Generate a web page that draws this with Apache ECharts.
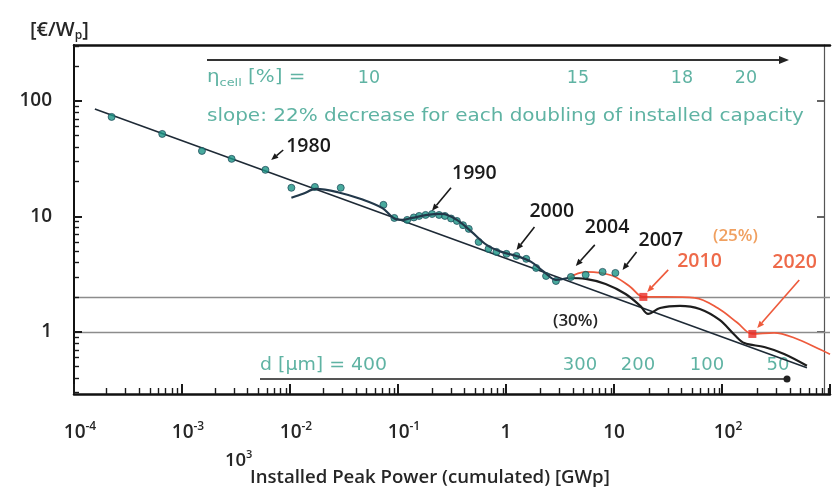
<!DOCTYPE html>
<html>
<head>
<meta charset="utf-8">
<title>PV experience curve</title>
<script src="https://cdn.jsdelivr.net/npm/echarts@6/dist/echarts.min.js"></script>
<style>
  html, body { margin: 0; padding: 0; background: #fff; }
  #chart { width: 833px; height: 495px; }
</style>
</head>
<body>
<div id="chart"></div>
<script>
// ---- data: cumulated installed power [GWp] vs module price [€/Wp] ----
const priceHistory = [
  [2.23e-4, 72.7], [6.56e-4, 51.8], [1.53e-3, 36.9], [2.88e-3, 31.5], [5.92e-3, 25.3],
  [0.0103, 17.7], [0.0170, 18.0], [0.0295, 17.7], [0.0733, 12.6], [0.0925, 9.7],
  [0.1216, 9.33], [0.140, 9.8], [0.157, 10.1], [0.180, 10.3], [0.207, 10.5], [0.240, 10.3],
  [0.272, 10.1], [0.310, 9.6], [0.351, 9.14], [0.400, 8.4], [0.452, 7.8], [0.558, 6.02],
  [0.689, 5.23], [0.816, 4.93], [1.01, 4.74], [1.25, 4.55], [1.54, 4.29], [1.90, 3.58],
  [2.35, 3.05], [2.90, 2.76], [3.99, 2.99], [5.47, 3.12], [7.84, 3.31], [10.3, 3.24]
];
// experience curve, 22 % decrease per doubling
const learningLine = [[1.56e-4, 85], [611, 0.49]];
// smoothed price development
const historyCurve = [
  [0.0103, 14.5], [0.0132, 15.7], [0.0174, 17.3], [0.0277, 16.2], [0.047, 14.0],
  [0.0718, 11.8], [0.0944, 9.5], [0.1095, 9.33], [0.135, 9.7], [0.186, 10.3],
  [0.255, 10.5], [0.351, 9.33], [0.481, 7.34], [0.661, 5.67], [0.908, 4.93],
  [1.25, 4.55], [1.71, 4.04], [2.25, 3.31], [2.90, 2.82], [3.74, 2.93]
];
// scenario with 30 % learning rate
const scenario30 = [
  [3.74, 2.93], [5.47, 2.88], [8.36, 2.60], [12.8, 2.13], [17.5, 1.68], [20.7, 1.43],
  [26.7, 1.61], [40.8, 1.68], [62.3, 1.58], [95.0, 1.27], [131, 0.94], [161, 0.80],
  [246, 0.74], [376, 0.645], [611, 0.51]
];
// scenario with 25 % learning rate
const scenario25 = [
  [3.74, 2.93], [5.47, 3.31], [7.52, 3.24], [10.3, 2.99], [14.2, 2.45], [18.7, 2.01],
  [29.7, 2.01], [56.0, 1.97], [91.2, 1.61], [139, 1.20], [191, 0.96], [304, 0.98],
  [464, 0.89], [822, 0.70], [1000, 0.64]
];
const scenario25Marks = [[18.7, 2.01], [191, 0.96]];
const priceLevels = [1, 2];

// year call-outs: arrow tip [GWp, €/Wp]
const yearLabels = ['1980', '1990', '2000', '2004', '2007', '2010', '2020'];
const yearArrowTips = [
  [6.7e-3, 30.8], [0.2065, 11.2], [1.25, 5.13], [4.43, 3.73], [12.0, 3.44], [20.3, 2.22], [212, 1.08]
];

// axis tick labels
const xTickExponents = [-4, -3, -2, -1, 0, 1, 2];
const xTickLabels = [['10', '-4'], ['10', '-3'], ['10', '-2'], ['10', '-1'], ['1', ''], ['10', ''], ['10', '2']];
const yTickExponents = [0, 1, 2];
const yTickLabels = ['1', '10', '100'];
const minorSteps = [2, 3, 4, 5, 6, 7, 8, 9];

// annotation rows along the top and bottom of the plot
const efficiencyLabels = ['10', '15', '18', '20'];
const thicknessLabels = ['300', '200', '100', '50'];

// ---- layout ----
const FONT = '"Open Sans", "Noto Sans", "DejaVu Sans", sans-serif';
const NOTE_FONT = '"DejaVu Sans", "Open Sans", sans-serif';
const TEAL = '#5fb3a3';
const RED = '#ee5a3c';
const X_MIN = 1e-4, X_MAX = 1e3, Y_MIN = 0.29, Y_MAX = 305;
const GRID = { left: 74, top: 45, width: 762, height: 349 };

const calloutLayout = [
  { tail: [12, -10], label: [15, -14], color: '#1a1a1a', text: '#1a1a1a' },
  { tail: [19, -23], label: [20, -37], color: '#1a1a1a', text: '#1a1a1a' },
  { tail: [18, -23], label: [13, -38], color: '#1a1a1a', text: '#1a1a1a' },
  { tail: [19, -21], label: [9, -38], color: '#1a1a1a', text: '#1a1a1a' },
  { tail: [14, -18], label: [16, -30], color: '#1a1a1a', text: '#1a1a1a' },
  { tail: [21, -22], label: [30, -30], color: RED, text: '#ee6a4a' },
  { tail: [42, -48], label: [15, -66], color: RED, text: '#ee6a4a' }
];
const efficiencyX = [369, 578, 682, 746];
const thicknessX = [580, 638, 707, 778];

// logarithmic tick positions: decades and the 2..9 steps between them
const xMajorTicks = [], xMinorTicks = [], yMajorTicks = [], yMinorTicks = [];
for (let e = -4; e <= 3; e++) {
  const d = Math.pow(10, e);
  xMajorTicks.push(d);
  if (e < 3) minorSteps.forEach(s => xMinorTicks.push(s * d));
}
for (let e = -1; e <= 2; e++) {
  const d = Math.pow(10, e);
  if (d > Y_MIN) yMajorTicks.push(d);
  minorSteps.forEach(s => { const v = s * d; if (v > Y_MIN && v < Y_MAX) yMinorTicks.push(v); });
}

function expIndex(v, list) {
  const l = Math.log10(v), e = Math.round(l);
  if (Math.abs(l - e) > 1e-6) return -1;
  return list.indexOf(e);
}

const chart = echarts.init(document.getElementById('chart'), null, { renderer: 'canvas' });

const graphics = [
  // y-axis unit
  { type: 'text', x: 30, y: 30, style: {
      text: '{a|[€/W}{s|p}{a|]}', verticalAlign: 'middle',
      rich: {
        a: { fontFamily: FONT, fontSize: 20, fontWeight: 600, fill: '#262626', color: '#262626', lineHeight: 24 },
        s: { fontFamily: FONT, fontSize: 12, fontWeight: 600, fill: '#262626', color: '#262626', lineHeight: 13, verticalAlign: 'bottom' }
      } } },
  // x-axis title
  { type: 'text', x: 225, y: 461, style: { text: '10', font: '600 18.5px ' + FONT, fill: '#262626', verticalAlign: 'middle' } },
  { type: 'text', x: 246, y: 455, style: { text: '3', font: '600 11px ' + FONT, fill: '#262626', verticalAlign: 'middle' } },
  { type: 'text', x: 250, y: 478, style: { text: 'Installed Peak Power (cumulated) [GWp]', font: '600 18.6px ' + FONT, fill: '#262626', verticalAlign: 'middle' } },
  // cell efficiency row
  { type: 'line', shape: { x1: 207, y1: 60, x2: 780, y2: 60 }, style: { stroke: '#333', lineWidth: 2 } },
  { type: 'polygon', shape: { points: [[789, 60], [779, 56], [779, 64]] }, style: { fill: '#222' } },
  { type: 'text', x: 207, y: 78, scaleX: 1.17, style: {
      text: '{t|η}{s|cell}{t| [%] =}', verticalAlign: 'middle',
      rich: {
        t: { fontFamily: NOTE_FONT, fontSize: 17, fill: TEAL, color: TEAL, lineHeight: 22 },
        s: { fontFamily: NOTE_FONT, fontSize: 11, fill: TEAL, color: TEAL, lineHeight: 12, verticalAlign: 'bottom' }
      } } },
  ...efficiencyLabels.map((t, i) => ({ type: 'text', x: efficiencyX[i], y: 78,
      style: { text: t, font: '17.5px ' + NOTE_FONT, fill: TEAL, align: 'center', verticalAlign: 'middle' } })),
  { type: 'text', x: 207, y: 116, scaleX: 1.11, style: {
      text: 'slope: 22% decrease for each doubling of installed capacity',
      font: '18px ' + NOTE_FONT, fill: TEAL, verticalAlign: 'middle' } },
  // wafer thickness row
  { type: 'text', x: 260, y: 365, scaleX: 1.05, style: { text: 'd [µm] = 400', font: '18px ' + NOTE_FONT, fill: TEAL, verticalAlign: 'middle' } },
  ...thicknessLabels.map((t, i) => ({ type: 'text', x: thicknessX[i], y: 365,
      style: { text: t, font: '18px ' + NOTE_FONT, fill: TEAL, align: 'center', verticalAlign: 'middle' } })),
  { type: 'line', shape: { x1: 260, y1: 379, x2: 787, y2: 379 }, style: { stroke: '#555', lineWidth: 2 } },
  { type: 'circle', shape: { cx: 787, cy: 379, r: 3.5 }, style: { fill: '#222' } },
  // learning-rate notes
  { type: 'text', x: 713, y: 236, style: { text: '(25%)', font: '600 17px ' + FONT, fill: '#f0a060', verticalAlign: 'middle' } },
  { type: 'text', x: 553, y: 321, style: { text: '(30%)', font: '600 17px ' + FONT, fill: '#262626', verticalAlign: 'middle' } }
];

const logX = { type: 'log', logBase: 10, min: X_MIN, max: X_MAX, splitLine: { show: false }, minorTick: { show: false } };
const logY = { type: 'log', logBase: 10, min: Y_MIN, max: Y_MAX, splitLine: { show: false }, minorTick: { show: false } };

const option = {
  animation: false,
  backgroundColor: '#fff',
  grid: [Object.assign({}, GRID), Object.assign({}, GRID)],
  xAxis: [
    Object.assign({}, logX, {
      gridIndex: 0, position: 'bottom', z: 5,
      axisLine: { lineStyle: { color: '#111', width: 2.5 } },
      axisTick: { show: true, inside: true, length: 10, customValues: xMajorTicks, lineStyle: { color: '#1a1a1a', width: 2 } },
      axisLabel: {
        margin: 27,
        formatter: v => {
          const i = expIndex(v, xTickExponents);
          if (i < 0) return '';
          const [b, s] = xTickLabels[i];
          return s ? '{sp|}{b|' + b + '}{s|' + s + '}' : '{b|' + b + '}';
        },
        rich: {
          b: { fontFamily: FONT, fontSize: 19, fontWeight: 600, color: '#262626', lineHeight: 24 },
          s: { fontFamily: FONT, fontSize: 12, fontWeight: 600, color: '#262626', lineHeight: 14, verticalAlign: 'top' },
          sp: { width: 12 }
        }
      }
    }),
    Object.assign({}, logX, {
      gridIndex: 0, position: 'top',
      axisLine: { lineStyle: { color: '#111', width: 2.5 } },
      axisTick: { show: false }, axisLabel: { show: false }
    }),
    Object.assign({}, logX, {
      gridIndex: 1, position: 'bottom', z: 5,
      axisLine: { show: false }, axisLabel: { show: false },
      axisTick: { show: true, inside: true, length: 6, customValues: xMinorTicks, lineStyle: { color: '#1a1a1a', width: 1.4 } }
    })
  ],
  yAxis: [
    Object.assign({}, logY, {
      gridIndex: 0, position: 'left', z: 5,
      axisLine: { lineStyle: { color: '#111', width: 2 } },
      axisTick: { show: true, inside: true, length: 8, customValues: yMajorTicks, lineStyle: { color: '#1a1a1a', width: 2 } },
      axisLabel: {
        margin: 22, fontFamily: FONT, fontSize: 19, fontWeight: 600, color: '#262626',
        formatter: v => { const i = expIndex(v, yTickExponents); return i < 0 ? '' : yTickLabels[i]; }
      }
    }),
    Object.assign({}, logY, {
      gridIndex: 0, position: 'right', offset: -6,
      axisLine: { lineStyle: { color: '#555', width: 1.2 } },
      axisTick: { show: true, inside: true, length: 7, customValues: yMajorTicks, lineStyle: { color: '#333', width: 1.5 } },
      axisLabel: { show: false }
    }),
    Object.assign({}, logY, {
      gridIndex: 1, position: 'left', z: 5,
      axisLine: { show: false }, axisLabel: { show: false },
      axisTick: { show: true, inside: true, length: 5, customValues: yMinorTicks, lineStyle: { color: '#1a1a1a', width: 1.4 } }
    })
  ],
  series: [
    {
      name: 'learning rate 22%', type: 'line', data: learningLine, showSymbol: false, z: 3,
      lineStyle: { color: '#1e2a36', width: 1.6 },
      markLine: {
        silent: true, symbol: 'none', label: { show: false },
        lineStyle: { color: '#8c8c8c', width: 1.3, type: 'solid' },
        data: priceLevels.map(v => ({ yAxis: v })), z: 1
      }
    },
    {
      name: 'scenario 30%', type: 'line', data: scenario30, showSymbol: false, smooth: 0.35, z: 4,
      lineStyle: { color: '#1d1d1d', width: 2.2 }
    },
    {
      name: 'scenario 25%', type: 'line', data: scenario25, showSymbol: false, smooth: 0.35, z: 4,
      lineStyle: { color: RED, width: 1.8 }
    },
    {
      name: 'price history', type: 'scatter', data: priceHistory, symbolSize: 7, z: 5,
      itemStyle: { color: '#1c9586', borderColor: '#23505e', borderWidth: 1 }
    },
    {
      name: 'price curve', type: 'line', data: historyCurve, showSymbol: false, smooth: 0.35, z: 6,
      lineStyle: { color: '#22384a', width: 2.2 }
    },
    {
      name: 'scenario marks', type: 'scatter', data: scenario25Marks, symbol: 'rect', symbolSize: 8, z: 7,
      itemStyle: { color: '#e82a24' }
    },
    {
      name: 'years', type: 'custom', data: yearArrowTips, silent: true, clip: false, z: 8,
      renderItem: (params, api) => {
        const i = params.dataIndex;
        const L = calloutLayout[i];
        const tip = api.coord([api.value(0), api.value(1)]);
        const tail = [tip[0] + L.tail[0], tip[1] + L.tail[1]];
        const dx = tip[0] - tail[0], dy = tip[1] - tail[1];
        const len = Math.hypot(dx, dy);
        const ux = dx / len, uy = dy / len, nx = -uy, ny = ux;
        const hl = 7, hw = 3;
        const base = [tip[0] - ux * hl, tip[1] - uy * hl];
        return {
          type: 'group',
          children: [
            { type: 'line', shape: { x1: tail[0], y1: tail[1], x2: base[0], y2: base[1] },
              style: { stroke: L.color, lineWidth: 1.6 } },
            { type: 'polygon', shape: { points: [tip, [base[0] + nx * hw, base[1] + ny * hw], [base[0] - nx * hw, base[1] - ny * hw]] },
              style: { fill: L.color } },
            { type: 'text', x: tip[0] + L.label[0], y: tip[1] + L.label[1],
              style: { text: yearLabels[i], font: '600 19.5px ' + FONT, fill: L.text, align: 'left', verticalAlign: 'middle' } }
          ]
        };
      }
    }
  ],
  graphic: graphics
};

chart.setOption(option);
</script>
</body>
</html>
